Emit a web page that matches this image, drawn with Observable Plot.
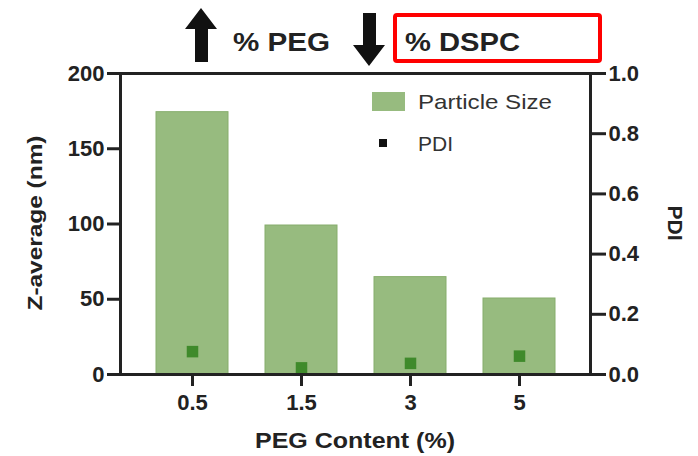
<!DOCTYPE html>
<html>
<head>
<meta charset="utf-8">
<script src="https://cdn.jsdelivr.net/npm/d3@7"></script>
<script src="https://cdn.jsdelivr.net/npm/@observablehq/plot@0.6"></script>
<style>
  html, body { margin: 0; padding: 0; background: #fff; }
  svg { display: block; }
</style>
</head>
<body>
<div id="chart"></div>
<script>
// ---- data ----
const categories = ["0.5", "1.5", "3", "5"];
const particleSize = [174.3, 99.0, 64.7, 50.5];
const pdi = [0.076, 0.022, 0.037, 0.061];
const leftTicks = [0, 50, 100, 150, 200];
const rightTicks = [0.0, 0.2, 0.4, 0.6, 0.8, 1.0];
const pdiMax = 1.0;
const sizeMax = 200;

const data = categories.map((c, i) => ({peg: c, size: particleSize[i], pdi: pdi[i]}));
const toLeft = v => v / pdiMax * sizeMax;

const FONT = "'Liberation Sans', Arial, Helvetica, sans-serif";
const INK = "#222";

const chart = Plot.plot({
  width: 698,
  height: 456,
  marginLeft: 120,
  marginRight: 108,
  marginTop: 73,
  marginBottom: 82,
  style: {fontFamily: FONT, background: "#fff", color: INK},
  x: {domain: categories, paddingInner: 0.34, paddingOuter: 0.325, axis: null},
  y: {domain: [0, sizeMax], axis: null},
  marks: [
    Plot.barY(data, {x: "peg", y: "size", fill: "#97bb7f", stroke: "#86ad6c", strokeWidth: 1}),
    Plot.dot(data, {x: "peg", y: d => toLeft(d.pdi), symbol: "square", r: 6.5, fill: "#3f8a2b"}),
    Plot.frame({stroke: INK, strokeWidth: 3}),
    Plot.axisY({ticks: leftTicks, tickSize: 13, tickPadding: 3, strokeWidth: 3,
      fontSize: 22, fontWeight: "bold", label: null, fill: INK}),
    Plot.axisY({anchor: "right", ticks: rightTicks.map(toLeft), tickFormat: v => (v / sizeMax * pdiMax).toFixed(1),
      tickSize: 15, tickPadding: 3, strokeWidth: 3, fontSize: 22, fontWeight: "bold", label: null, fill: INK}),
    Plot.axisX({tickSize: 12, tickPadding: 8, strokeWidth: 3, fontSize: 22, fontWeight: "bold", label: null, fill: INK})
  ]
});

document.getElementById("chart").appendChild(chart);

// ---- annotations, titles, legend ----
const svg = d3.select(chart);
const g = svg.append("g").attr("font-family", FONT).attr("text-anchor", "start");

// axis titles
g.append("text").text("Z-average (nm)")
  .attr("transform", "translate(42,223) rotate(-90)")
  .attr("text-anchor", "middle").attr("font-size", 21).attr("font-weight", "bold").attr("fill", INK)
  .attr("textLength", 175).attr("lengthAdjust", "spacingAndGlyphs");
g.append("text").text("PDI")
  .attr("transform", "translate(668,223) rotate(90)")
  .attr("text-anchor", "middle").attr("font-size", 21).attr("font-weight", "bold").attr("fill", INK);
g.append("text").text("PEG Content (%)")
  .attr("x", 355).attr("y", 448)
  .attr("text-anchor", "middle").attr("font-size", 22).attr("font-weight", "bold").attr("fill", INK)
  .attr("textLength", 200).attr("lengthAdjust", "spacingAndGlyphs");

// legend
g.append("rect").attr("x", 372).attr("y", 92).attr("width", 33).attr("height", 19).attr("fill", "#97bb7f");
g.append("text").text("Particle Size").attr("x", 418).attr("y", 109)
  .attr("font-size", 21).attr("fill", "#333")
  .attr("textLength", 134).attr("lengthAdjust", "spacingAndGlyphs");
g.append("rect").attr("x", 379).attr("y", 139).attr("width", 8).attr("height", 8).attr("fill", "#111");
g.append("text").text("PDI").attr("x", 418).attr("y", 151)
  .attr("font-size", 21).attr("fill", "#333");

// top annotation: arrows, text, red box
g.append("path").attr("d", "M201,8 L217,29 L208,29 L208,62 L195,62 L195,29 L185,29 Z").attr("fill", "#111");
g.append("text").text("% PEG").attr("x", 233).attr("y", 51)
  .attr("font-size", 25).attr("font-weight", "bold").attr("fill", "#222")
  .attr("textLength", 97).attr("lengthAdjust", "spacingAndGlyphs");
g.append("path").attr("d", "M363,13 L376,13 L376,45 L385,45 L369,66 L353,45 L363,45 Z").attr("fill", "#111");
g.append("rect").attr("x", 395).attr("y", 15).attr("width", 205).attr("height", 46).attr("rx", 2)
  .attr("fill", "none").attr("stroke", "#f00").attr("stroke-width", 4);
g.append("text").text("% DSPC").attr("x", 405).attr("y", 51)
  .attr("font-size", 25).attr("font-weight", "bold").attr("fill", "#222")
  .attr("textLength", 115).attr("lengthAdjust", "spacingAndGlyphs");
</script>
</body>
</html>
